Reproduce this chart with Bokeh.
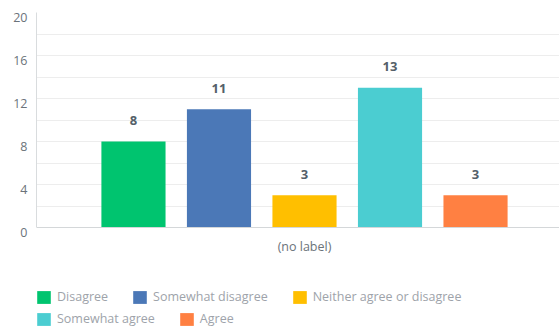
from bokeh.plotting import figure
from bokeh.models import (ColumnDataSource, FixedTicker, Legend, LegendItem, LinearAxis,
                          Range1d)
from bokeh.core.properties import value
from bokeh.embed import file_html
from bokeh.resources import INLINE

categories = ["Disagree", "Somewhat disagree", "Neither agree or disagree", "Somewhat agree", "Agree"]
counts = [8, 11, 3, 13, 3]
colors = ["#00c46f", "#4b78b7", "#ffbf00", "#4bcdd1", "#ff8042"]
y_ticks = [0, 4, 8, 12, 16, 20]
y_tick_labels = ["0", "4", "8", "12", "16", "20"]
grid_ticks = [2, 4, 6, 8, 10, 12, 14, 16, 18, 20]
group_label = "(no label)"
legend_rows = [[0, 1, 2], [3, 4]]

FONT = "Open Sans"
TICK_COLOR = "#6b737a"
LABEL_SHIFT = 0.465  # tick labels sit ~5px below their grid lines

x = list(range(len(categories)))
src = ColumnDataSource(dict(x=x, top=counts, color=colors, cat=categories,
                            lab=[str(c) for c in counts]))

# the frame reaches the bottom of the canvas so the legend can live inside it
p = figure(frame_width=523, frame_height=317, output_backend="svg", toolbar_location=None,
           x_range=Range1d(-1.134, 4.982), y_range=Range1d(-9.488, 20),
           min_border_left=36, min_border_right=0, min_border_top=12, min_border_bottom=0)
p.outline_line_color = None

bars = p.vbar(x="x", top="top", bottom=0, width=0.75, fill_color="color",
              line_color=None, source=src)

p.text(x="x", y="top", text="lab", source=src, text_align="center",
       text_baseline="middle", y_offset=-21, text_font=value(FONT),
       text_font_style="bold", text_font_size="13px", text_color="#545f69")

# inner y axis: line only
yline = p.yaxis[0]
yline.ticker = FixedTicker(ticks=[])
yline.bounds = (0, 20)
yline.axis_line_color = "#d9dcde"
yline.major_tick_out = 0
yline.major_tick_in = 0
yline.major_label_standoff = 0
yline.minor_tick_line_color = None

# outer y axis: tick labels
ylab = LinearAxis(ticker=FixedTicker(ticks=[t - LABEL_SHIFT for t in y_ticks]),
                  major_label_overrides={t - LABEL_SHIFT: s for t, s in zip(y_ticks, y_tick_labels)},
                  axis_line_color=None, major_tick_line_color=None, minor_tick_line_color=None,
                  major_tick_out=0, major_tick_in=0, major_label_standoff=9,
                  major_label_text_font=FONT, major_label_text_font_size="12.5px",
                  major_label_text_color=TICK_COLOR)
p.add_layout(ylab, "left")

p.ygrid.ticker = FixedTicker(ticks=grid_ticks)
p.ygrid.grid_line_color = "#ededed"
p.xgrid.grid_line_color = None

# x axis pinned at zero
center_x = (len(categories) - 1) / 2
xax = p.xaxis[0]
xax.fixed_location = 0
xax.bounds = (p.x_range.start, p.x_range.end)
xax.ticker = FixedTicker(ticks=[center_x])
xax.major_label_overrides = {center_x: group_label}
xax.major_tick_line_color = None
xax.minor_tick_line_color = None
xax.major_tick_out = 0
xax.major_tick_in = 0
xax.axis_line_color = "#d4d7d9"
xax.major_label_standoff = 10
xax.major_label_text_font = FONT
xax.major_label_text_font_size = "12.5px"
xax.major_label_text_color = TICK_COLOR

for row, vy in zip(legend_rows, [24, 2]):
    leg = Legend(items=[LegendItem(label=value(categories[i]), renderers=[bars], index=i) for i in row],
                 orientation="horizontal", location=(-1, vy),
                 border_line_color=None, background_fill_alpha=0, padding=0, margin=0,
                 spacing=23, label_standoff=5, glyph_width=17, glyph_height=16,
                 label_height=16, label_text_font=FONT, label_text_font_size="12.5px",
                 label_text_color="#9ea3aa")
    p.add_layout(leg)

open("out.html", "w").write(file_html(p, INLINE))
